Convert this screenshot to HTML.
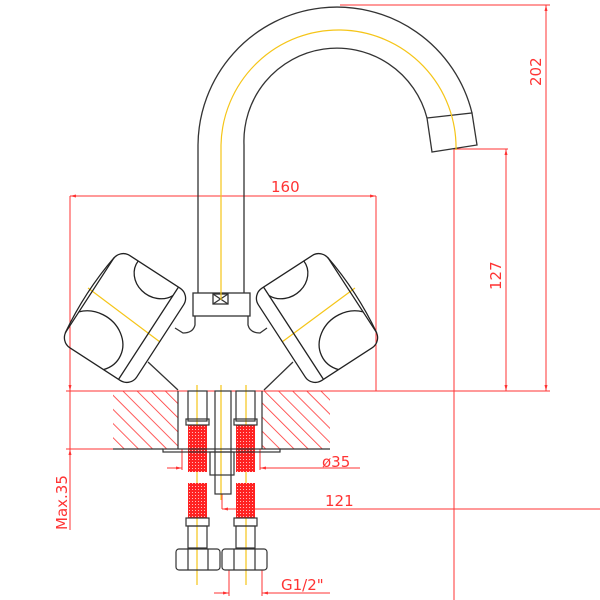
<!DOCTYPE html>
<html><head><meta charset="utf-8"><style>html,body{margin:0;padding:0;background:#fff}svg{display:block}</style></head>
<body>
<svg width="600" height="600" viewBox="0 0 600 600" xmlns="http://www.w3.org/2000/svg">
<defs>
<pattern id="hatch" width="10" height="10" patternUnits="userSpaceOnUse" patternTransform="rotate(-45)">
<line x1="0" y1="0" x2="0" y2="10" stroke="#f33" stroke-width="1.6"/>
</pattern>
<pattern id="mesh" width="3" height="3" patternUnits="userSpaceOnUse">
<rect width="3" height="3" fill="#f22"/><rect width="1" height="1" fill="#fbb"/>
</pattern>
</defs>
<g fill="none" stroke="#f33" stroke-width="1">
<rect x="113" y="391" width="65" height="58" fill="url(#hatch)" stroke="none"/>
<rect x="262" y="391" width="68" height="58" fill="url(#hatch)" stroke="none"/>
<line x1="66" y1="391" x2="550" y2="391"/>
<line x1="66" y1="449" x2="113" y2="449"/>
<line x1="70" y1="196" x2="70" y2="391"/>
<line x1="376" y1="196" x2="376" y2="391"/>
<line x1="70" y1="196" x2="376" y2="196"/>
<line x1="70" y1="375" x2="70" y2="530"/>
<line x1="454" y1="148" x2="454" y2="600"/>
<line x1="454" y1="149" x2="508" y2="149"/>
<line x1="506" y1="149" x2="506" y2="391"/>
<line x1="340" y1="5" x2="550" y2="5"/>
<line x1="546" y1="5" x2="546" y2="391"/>
<line x1="167" y1="468" x2="182" y2="468"/>
<line x1="260" y1="468" x2="360" y2="468"/>
<line x1="182" y1="449" x2="182" y2="470"/>
<line x1="260" y1="449" x2="260" y2="470"/>
<line x1="222" y1="494" x2="222" y2="509"/>
<line x1="222" y1="509" x2="600" y2="509"/>
<line x1="229" y1="570" x2="229" y2="596"/>
<line x1="262" y1="570" x2="262" y2="596"/>
<line x1="214" y1="593" x2="229" y2="593"/>
<line x1="262" y1="593" x2="330" y2="593"/>
</g>
<g fill="#f33">
<path d="M182 468 l-6 -1.5 v3z M260 468 l6 -1.5 v3z M229 593 l-6 -1.5 v3z M262 593 l6 -1.5 v3z M222 509 l6 -1.5 v3z"/>
<path d="M506 149 l-1.5 6 h3z M506 391 l-1.5 -6 h3z M546 5 l-1.5 6 h3z M546 391 l-1.5 -6 h3z M70 196 l6 -1.5 v3z M376 196 l-6 -1.5 v3z"/>
<path d="M70 391 l-1.5 -6 h3z M70 449 l-1.5 6 h3z"/>
</g>
<g font-family="DejaVu Sans, sans-serif" font-size="15" fill="#f33">
<text x="271" y="192">160</text>
<text x="322" y="467">ø35</text>
<text x="325" y="506">121</text>
<text x="281" y="590">G1/2"</text>
<text transform="translate(501,290) rotate(-90)">127</text>
<text transform="translate(541,86) rotate(-90)">202</text>
<text transform="translate(67,530) rotate(-90)">Max.35</text>
</g>
<g fill="none" stroke="#333" stroke-width="1.3">
<path d="M198 293 L198 145 A139 139 0 0 1 472 113"/>
<path d="M244 293 L244 145 A93 93 0 0 1 427 118"/>
<path d="M427 118 L472 113 L477 145 L432 152 Z"/>
<rect x="193" y="293" width="57" height="23"/>
<rect x="213" y="294" width="15" height="10"/>
<path d="M213 294 L228 304 M228 294 L213 304"/>
<path d="M195 316 L195 325 Q193 333 183 333 L175 328"/>
<path d="M248 316 L248 325 Q250 333 260 333 L267 328"/>
<path d="M148 362 L178 390 M293 362 L264 390"/>
</g>
<g fill="none" stroke="#f5c518" stroke-width="1.2">
<path d="M221 300 L221 145 A116 116 0 0 1 456 150"/>
<line x1="88" y1="288" x2="160" y2="342"/>
<line x1="355" y1="288" x2="282" y2="342"/>
<line x1="197" y1="385" x2="197" y2="585"/>
<line x1="246" y1="385" x2="246" y2="585"/>
<line x1="221" y1="385" x2="221" y2="500"/>
</g>
<g fill="none" stroke="#222" stroke-width="1.3">
<g transform="translate(125,318) rotate(33)">
<rect x="-42" y="-55" width="84" height="110" rx="12"/>
<line x1="28" y1="-55" x2="28" y2="55"/>
<path d="M-42 -45 Q-48 0 -42 45" />
<path d="M-20 -55 A25 22 0 0 0 28 -45"/>
<path d="M-42 20 A30 26 0 0 1 10 55"/>
</g>
<g transform="translate(317,318) rotate(-33)">
<rect x="-42" y="-55" width="84" height="110" rx="12"/>
<line x1="-28" y1="-55" x2="-28" y2="55"/>
<path d="M42 -45 Q48 0 42 45" />
<path d="M20 -55 A25 22 0 0 1 -28 -45"/>
<path d="M42 20 A30 26 0 0 0 -10 55"/>
</g>
</g>
<g stroke="#333" stroke-width="1.2" fill="none">
<rect x="188" y="425" width="19" height="47" fill="url(#mesh)" stroke="none"/>
<rect x="188" y="483" width="19" height="35" fill="url(#mesh)" stroke="none"/>
<rect x="236" y="425" width="19" height="47" fill="url(#mesh)" stroke="none"/>
<rect x="236" y="483" width="19" height="35" fill="url(#mesh)" stroke="none"/>
<rect x="188" y="391" width="19" height="30"/>
<rect x="186" y="419" width="23" height="6"/>
<rect x="236" y="391" width="19" height="30"/>
<rect x="234" y="419" width="23" height="6"/>
<rect x="186" y="518" width="23" height="8"/>
<rect x="234" y="518" width="23" height="8"/>
<rect x="188" y="526" width="19" height="22"/>
<rect x="236" y="526" width="19" height="22"/>
<rect x="176" y="549" width="44" height="21" rx="3"/>
<line x1="188" y1="549" x2="188" y2="570"/><line x1="208" y1="549" x2="208" y2="570"/>
<rect x="222" y="549" width="45" height="21" rx="3"/>
<line x1="234" y1="549" x2="234" y2="570"/><line x1="255" y1="549" x2="255" y2="570"/>
<rect x="215" y="391" width="16" height="103"/>
<rect x="210" y="452" width="24" height="23"/>
<line x1="178" y1="391" x2="178" y2="449"/>
<line x1="262" y1="391" x2="262" y2="449"/>
<rect x="163" y="449" width="117" height="3"/>
<line x1="113" y1="449" x2="163" y2="449"/>
<line x1="280" y1="449" x2="330" y2="449"/>
</g>
</svg>
</body></html>
